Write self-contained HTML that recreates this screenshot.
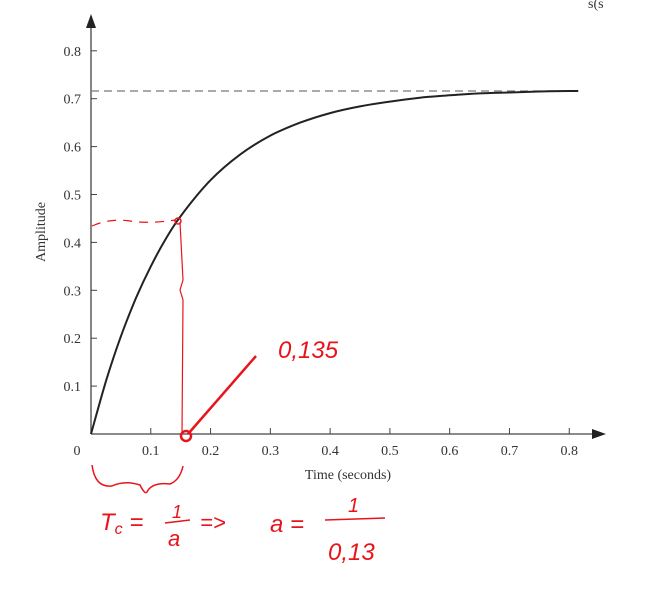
<!DOCTYPE html>
<html><head><meta charset="utf-8"><style>
body{margin:0;background:#fff}
svg{display:block}
.t{font-family:"Liberation Serif",serif;font-size:14px;fill:#333}
.h{font-family:"Liberation Sans",sans-serif;font-style:italic;fill:#e8141b}
</style></head><body>
<svg id="c" width="646" height="607" viewBox="0 0 646 607">
<text x="588" y="8" class="t" font-size="20" fill="#555">s(s</text>
<g id="axes"></g>
<g id="plot"></g>
<g id="notes">
<path d="M92 226 Q110 218 130 221 T175 220" fill="none" stroke="#e8141b" stroke-width="1.2" stroke-dasharray="9,7"/>
<path d="M180 222 L183 280 L180 290 L183 300 L182 434" fill="none" stroke="#e8141b" stroke-width="1.2"/>
<circle cx="178" cy="221" r="3" fill="none" stroke="#e8141b" stroke-width="1.5"/>
<circle cx="186" cy="436" r="5" fill="none" stroke="#e8141b" stroke-width="2.5"/>
<line x1="188" y1="434" x2="256" y2="356" stroke="#e8141b" stroke-width="2.5"/>
<text x="278" y="358" class="h" font-size="24">0,135</text>
<path d="M92 465 Q95 488 112 486 Q125 480 140 485 Q145 495 147 492 Q152 482 170 484 Q180 480 183 466" fill="none" stroke="#e8141b" stroke-width="1.5"/>
<text x="100" y="530" class="h" font-size="24">T<tspan font-size="16" dy="4">c</tspan><tspan dy="-4"> = </tspan></text>
<text x="172" y="518" class="h" font-size="18">1</text>
<line x1="165" y1="523" x2="190" y2="520" stroke="#e8141b" stroke-width="1.5"/>
<text x="168" y="546" class="h" font-size="22">a</text>
<text x="200" y="530" class="h" font-size="22">=&gt;</text>
<text x="270" y="532" class="h" font-size="24">a =</text>
<text x="348" y="512" class="h" font-size="20">1</text>
<line x1="325" y1="520" x2="385" y2="518" stroke="#e8141b" stroke-width="1.5"/>
<text x="328" y="560" class="h" font-size="24">0,13</text>
</g>
</svg>
<script>
const xTicks=[0.1,0.2,0.3,0.4,0.5,0.6,0.7,0.8];
const yTicks=[0.1,0.2,0.3,0.4,0.5,0.6,0.7,0.8];
const times=[0,0.025,0.05,0.075,0.1,0.125,0.15,0.2,0.25,0.3,0.35,0.4,0.45,0.5,0.55,0.6,0.65,0.7,0.75,0.8,0.815];
const amps=[0,0.110,0.204,0.283,0.350,0.407,0.455,0.530,0.584,0.623,0.650,0.670,0.684,0.694,0.702,0.707,0.711,0.713,0.715,0.716,0.716];
const finalValue=[0.716];
const X0=91,Y0=434,PX=597.8,PY=479;
const sx=v=>X0+v*PX, sy=v=>Y0-v*PY;
const NS='http://www.w3.org/2000/svg';
function mk(p,tag,a){const e=document.createElementNS(NS,tag);for(const k in a)e.setAttribute(k,a[k]);p.appendChild(e);return e;}
const ax=document.getElementById('axes'),pl=document.getElementById('plot');
let e;
e=mk(ax,'line',{x1:X0,y1:Y0,x2:598,y2:Y0,stroke:'#444','stroke-width':1.3});


e=mk(ax,'polygon',{points:'606,434 592,429 592,439',fill:'#222'});


e=mk(ax,'line',{x1:X0,y1:Y0,x2:X0,y2:24,stroke:'#444','stroke-width':1.3});


e=mk(ax,'polygon',{points:'91,14 86,28 96,28',fill:'#222'});


e=mk(ax,'text',{x:77,y:455,class:'t','text-anchor':'middle'});e.textContent='0';


xTicks.forEach(v=>{
 e=mk(ax,'line',{x1:sx(v),y1:Y0,x2:sx(v),y2:Y0-6,stroke:'#444'});
 
 
 e=mk(ax,'text',{x:sx(v),y:455,class:'t','text-anchor':'middle'});e.textContent=v.toFixed(1);
 
 
});
yTicks.forEach(v=>{
 e=mk(ax,'line',{x1:X0,y1:sy(v),x2:X0+6,y2:sy(v),stroke:'#444'});
 
 
 e=mk(ax,'text',{x:81,y:sy(v)+5,class:'t','text-anchor':'end'});e.textContent=v.toFixed(1);
 
 
});
e=mk(ax,'text',{x:348,y:479,class:'t','text-anchor':'middle'});e.textContent='Time (seconds)';


e=mk(ax,'text',{x:0,y:0,class:'t','text-anchor':'middle',transform:'translate(45,232) rotate(-90)'});e.textContent='Amplitude';


e=mk(pl,'line',{x1:X0,y1:sy(finalValue[0]),x2:sx(0.815),y2:sy(finalValue[0]),stroke:'#777','stroke-width':1.3,'stroke-dasharray':'8,5'});


// smooth Catmull-Rom path through data points
const P=times.map((t,i)=>[sx(t),sy(amps[i])]);
let d='M'+P[0][0].toFixed(1)+' '+P[0][1].toFixed(1);
for(let i=0;i<P.length-1;i++){
 const p0=P[Math.max(i-1,0)],p1=P[i],p2=P[i+1],p3=P[Math.min(i+2,P.length-1)];
 const c1=[p1[0]+(p2[0]-p0[0])/6,p1[1]+(p2[1]-p0[1])/6];
 const c2=[p2[0]-(p3[0]-p1[0])/6,p2[1]-(p3[1]-p1[1])/6];
 d+=' C'+c1.map(v=>v.toFixed(1)).join(' ')+' '+c2.map(v=>v.toFixed(1)).join(' ')+' '+p2.map(v=>v.toFixed(1)).join(' ');
}
e=mk(pl,'path',{d:d,fill:'none',stroke:'#222','stroke-width':2,'stroke-linejoin':'round'});


</script>
</body></html>
